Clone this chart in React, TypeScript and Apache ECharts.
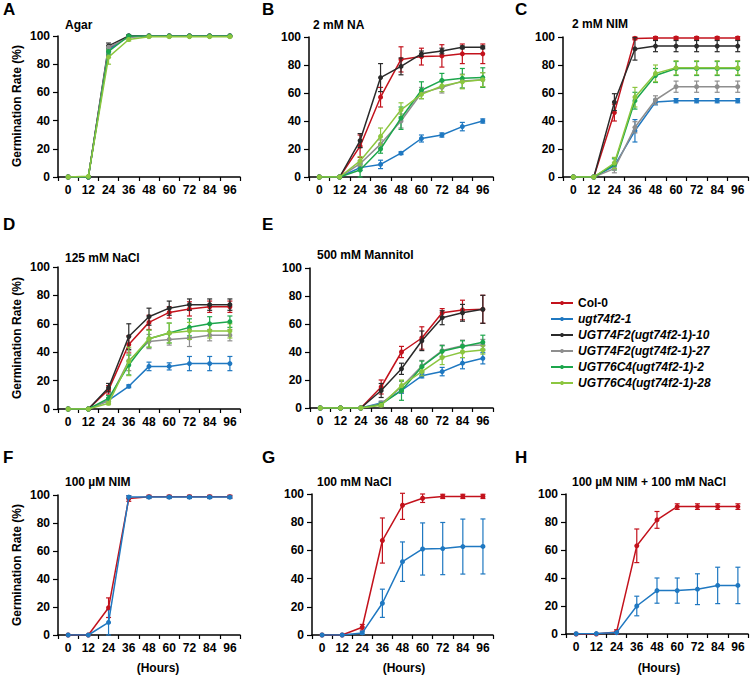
import React, { useEffect, useRef } from "react";
import * as echarts from "echarts";

const hours = ["0", "12", "24", "36", "48", "60", "72", "84", "96"];
const genotypes = [
  "Col-0",
  "ugt74f2-1",
  "UGT74F2(ugt74f2-1)-10",
  "UGT74F2(ugt74f2-1)-27",
  "UGT76C4(ugt74f2-1)-2",
  "UGT76C4(ugt74f2-1)-28",
];
const colors = ["#c3121c", "#1f78c1", "#2a2a2a", "#8e8e8e", "#1ca64c", "#8cc63f"];

// Panel A: Agar
const agarMeans = [
  [0, 0, 91, 100, 100, 100, 100, 100, 100],
  [0, 0, 90, 100, 100, 100, 100, 100, 100],
  [0, 0, 93, 100, 100, 100, 100, 100, 100],
  [0, 0, 92, 99, 100, 100, 100, 100, 100],
  [0, 0, 89, 100, 100, 100, 100, 100, 100],
  [0, 0.5, 85, 97.5, 99.5, 99.5, 99.5, 99.5, 99.5],
];
const agarErrs = [
  [0, 0, 2, 0.5, 0, 0, 0, 0, 0],
  [0, 0, 2, 0.5, 0, 0, 0, 0, 0],
  [0, 0, 2, 0.5, 0, 0, 0, 0, 0],
  [0, 0, 3, 0.5, 0, 0, 0, 0, 0],
  [0, 0, 2, 0.5, 0, 0, 0, 0, 0],
  [0, 0, 5, 1, 0.5, 0.5, 0.5, 0.5, 0.5],
];

// Panel B: 2 mM NA
const naMeans = [
  [0, 0, 22, 57, 84, 86, 86.5, 88, 88],
  [0, 0, 6.7, 9, 17, 27.5, 30, 36, 40],
  [0, 0, 26, 71, 79, 88, 90, 92.6, 92.6],
  [0, 0, 9.5, 23.5, 40, 60, 64, 68.5, 69.5],
  [0, 0, 5, 20, 42, 62, 69, 70.5, 71],
  [0, 0, 11.5, 29, 48, 59, 65, 68, 69.5],
];
const naErrs = [
  [0, 0, 8, 7, 9, 6, 8, 7, 7],
  [0, 0, 2, 3, 1, 2.5, 1.5, 3, 1.5],
  [0, 0, 5, 10, 6, 2, 2, 1, 1],
  [0, 0, 2, 3, 5, 4, 4, 5, 5],
  [0, 0, 5, 3, 8, 6, 5, 7, 7],
  [0, 0, 3, 6, 5, 3, 4, 5, 5],
];

// Panel C: 2 mM NIM
const nimMeans = [
  [0, 0, 46, 99, 99.3, 99.3, 99.3, 99.3, 99.3],
  [0, 0, 8, 33, 53.5, 54.5, 54.5, 54.5, 54.5],
  [0, 0, 53.5, 91.5, 93.5, 93.5, 93.5, 93.5, 93.5],
  [0, 0, 6, 35.5, 55, 64.5, 64.5, 64.5, 64.5],
  [0, 0, 9, 54.5, 72.5, 77.5, 77.5, 77.5, 77.5],
  [0, 0, 10, 57, 74, 78, 78, 78, 78],
];
const nimErrs = [
  [0, 0, 6, 1, 1, 1, 1, 1, 1],
  [0, 0, 2, 8, 2, 1.5, 1.5, 1.5, 1.5],
  [0, 0, 6, 8, 4, 4, 4, 4, 4],
  [0, 0, 3, 4, 3, 4, 4, 4, 4],
  [0, 0, 4, 6, 5, 5, 5, 5, 5],
  [0, 0, 4, 7, 6, 5, 5, 5, 5],
];

// Panel D: 125 mM NaCl
const nacl125Means = [
  [0, 0, 13.5, 45.5, 61, 68, 70.5, 72, 72],
  [0, 0, 6, 16, 30, 30, 32, 32, 32],
  [0, 0, 15, 51, 65, 71, 73.5, 73.5, 73.5],
  [0, 0, 6, 34, 47.5, 49, 50, 52, 52],
  [0, 0, 7.5, 31, 49.5, 53.5, 57.5, 60, 61.5],
  [0, 0, 4, 33.5, 49.5, 53.5, 55, 55, 55],
];
const nacl125Errs = [
  [0, 0, 3, 6, 5, 4, 5, 4, 4],
  [0, 0, 1, 1, 3, 2.5, 5, 5, 5],
  [0, 0, 3, 9, 6, 5, 4, 4, 4],
  [0, 0, 2, 7, 5, 4, 6, 4, 4],
  [0, 0, 2, 7, 6, 7, 6, 5, 4],
  [0, 0, 1, 10, 6, 7, 6, 5, 5],
];

// Panel E: 500 mM Mannitol
const mannitolMeans = [
  [0, 0, 0, 15, 40, 50, 68, 70, 70.5],
  [0, 0, 0, 3.5, 12.5, 23, 26, 32, 35.5],
  [0, 0, 0, 12.5, 28, 48, 64.5, 68, 70.5],
  [0, 0, 0, 3, 15, 30, 41, 44.5, 45],
  [0, 0, 0, 2.5, 12.5, 29.5, 40.5, 44, 47],
  [0, 0, 0, 2, 16, 26, 36, 40, 41.5],
];
const mannitolErrs = [
  [0, 0, 0, 5, 4, 8, 3, 7, 10],
  [0, 0, 0, 1, 2, 1.5, 3, 4, 4],
  [0, 0, 0, 5, 4, 7, 5, 6, 10],
  [0, 0, 0, 2, 4, 4, 4, 4, 4],
  [0, 0, 0, 1, 7, 4, 4, 4, 5],
  [0, 0, 0, 1, 4, 3, 5, 4, 3],
];

// Panel F: 100 µM NIM
const nim100Means = [
  [0, 0, 19.5, 97.5, 98.8, 98.8, 98.8, 98.8, 98.8],
  [0, 0, 9, 98.5, 98.5, 98.5, 98.5, 98.5, 98.5],
];
const nim100Errs = [
  [0, 0, 7, 2, 1, 1, 1, 1, 1],
  [0, 0, 9, 1, 1, 1, 1, 1, 1],
];

// Panel G: 100 mM NaCl
const nacl100Means = [
  [0, 0, 5.5, 67, 92, 97, 98.3, 98.3, 98.3],
  [0, 0, 1.5, 22.5, 52, 61, 61.3, 62.7, 62.8],
];
const nacl100Errs = [
  [0, 0, 2, 16, 10, 3, 1.5, 1.5, 1.5],
  [0, 0, 1, 10, 14, 18.5, 18.5, 19.5, 19.5],
];

// Panel H: 100 µM NIM + 100 mM NaCl
const comboMeans = [
  [0, 0, 1.5, 63, 81.5, 91, 91, 91, 91],
  [0.2, 0.3, 1, 20, 31, 31, 32, 34.7, 34.7],
];
const comboErrs = [
  [0, 0, 1.5, 12, 6, 2, 2, 2, 2],
  [0, 0, 0.5, 7, 9, 9, 11, 13, 13],
];

const panels = [
  { letter: "A", title: "Agar", means: agarMeans, errs: agarErrs },
  { letter: "B", title: "2 mM NA", means: naMeans, errs: naErrs },
  { letter: "C", title: "2 mM NIM", means: nimMeans, errs: nimErrs },
  { letter: "D", title: "125 mM NaCl", means: nacl125Means, errs: nacl125Errs },
  { letter: "E", title: "500 mM Mannitol", means: mannitolMeans, errs: mannitolErrs },
  { letter: "F", title: "100 µM NIM", means: nim100Means, errs: nim100Errs },
  { letter: "G", title: "100 mM NaCl", means: nacl100Means, errs: nacl100Errs },
  { letter: "H", title: "100 µM NIM + 100 mM NaCl", means: comboMeans, errs: comboErrs },
];

// layout (pixels)
const layout = [
  { left: 58, top: 36, width: 182, height: 141, lx: 3, ly: 10, tx: 65, ty: 25 },
  { left: 309, top: 37, width: 184, height: 140, lx: 262, ly: 10, tx: 313, ty: 25 },
  { left: 563, top: 37, width: 185, height: 140, lx: 515, ly: 10, tx: 572, ty: 24 },
  { left: 58, top: 267, width: 182, height: 142, lx: 3, ly: 225, tx: 65, ty: 258 },
  { left: 310, top: 268, width: 183, height: 140, lx: 262, ly: 225, tx: 317, ty: 255 },
  { left: 58, top: 495, width: 182, height: 140, lx: 3, ly: 458, tx: 65, ty: 482 },
  { left: 312, top: 494, width: 181, height: 141, lx: 262, ly: 458, tx: 317, ty: 482 },
  { left: 566, top: 494, width: 182, height: 140, lx: 515, ly: 458, tx: 572, ty: 482 },
];

const FONT = "Liberation Sans, Arial, sans-serif";

function errorRenderer(color: string) {
  return (params: any, api: any) => {
    const x = api.value(0);
    const lo = api.value(1);
    const hi = api.value(2);
    if (hi - lo <= 0) return null;
    const p1 = api.coord([x, lo]);
    const p2 = api.coord([x, hi]);
    const w = 2.5;
    const st = { stroke: color, lineWidth: 1.2 };
    return {
      type: "group",
      children: [
        { type: "line", shape: { x1: p1[0], y1: p1[1], x2: p2[0], y2: p2[1] }, style: st },
        { type: "line", shape: { x1: p1[0] - w, y1: p1[1], x2: p1[0] + w, y2: p1[1] }, style: st },
        { type: "line", shape: { x1: p2[0] - w, y1: p2[1], x2: p2[0] + w, y2: p2[1] }, style: st },
      ],
    };
  };
}

export default function App() {
  const ref = useRef<HTMLDivElement>(null);
  useEffect(() => {
    document.body.style.margin = "0";
    if (!ref.current) return;
    const chart = echarts.init(ref.current, undefined, { renderer: "svg" });

    const grids: any[] = [];
    const xAxes: any[] = [];
    const yAxes: any[] = [];
    const lineSeries: any[] = [];
    const errSeries: any[] = [];
    const graphics: any[] = [];

    panels.forEach((p, i) => {
      const L = layout[i];
      grids.push({ left: L.left, top: L.top, width: L.width, height: L.height, containLabel: false });
      xAxes.push({
        type: "category",
        gridIndex: i,
        data: hours,
        boundaryGap: true,
        axisLine: { lineStyle: { color: "#000", width: 1.5 } },
        axisTick: { show: true, length: 4, alignWithLabel: false, lineStyle: { color: "#000", width: 1.2 } },
        axisLabel: { interval: 0, margin: 7, color: "#000", fontWeight: "bold", fontSize: 12, fontFamily: FONT },
        splitLine: { show: false },
      });
      yAxes.push({
        type: "value",
        gridIndex: i,
        min: 0,
        max: 100,
        interval: 20,
        axisLine: { show: true, lineStyle: { color: "#000", width: 1.5 } },
        axisTick: { show: true, length: 5, lineStyle: { color: "#000", width: 1.2 } },
        axisLabel: { margin: 8, color: "#000", fontWeight: "bold", fontSize: 12, fontFamily: FONT },
        splitLine: { show: false },
      });
      p.means.forEach((m, g) => {
        const color = colors[g];
        lineSeries.push({
          type: "line",
          name: genotypes[g],
          xAxisIndex: i,
          yAxisIndex: i,
          data: m,
          symbol: "circle",
          symbolSize: 5,
          showSymbol: true,
          lineStyle: { color, width: 1.5 },
          itemStyle: { color },
          z: 3 + g,
          emphasis: { disabled: true },
        });
        errSeries.push({
          type: "custom",
          xAxisIndex: i,
          yAxisIndex: i,
          renderItem: errorRenderer(color),
          data: m.map((v, k) => [k, Math.max(0, v - p.errs[g][k]), Math.min(100.5, v + p.errs[g][k])]),
          encode: { x: 0, y: [1, 2] },
          z: 2 + g,
          silent: true,
        });
      });
      graphics.push({
        type: "text",
        left: L.lx,
        top: L.ly - 9,
        style: { text: p.letter, fontSize: 17, fontWeight: "bold", fontFamily: FONT, fill: "#000" },
      });
      graphics.push({
        type: "text",
        x: L.tx,
        y: L.ty,
        style: {
          text: p.title,
          fontSize: 12,
          fontWeight: "bold",
          fontFamily: FONT,
          fill: "#000",
          align: "left",
          verticalAlign: "middle",
        },
      });
    });

    // y-axis names
    [
      { x: 17, y: 106 },
      { x: 17, y: 338 },
      { x: 17, y: 565 },
    ].forEach((pos) => {
      graphics.push({
        type: "text",
        x: pos.x,
        y: pos.y,
        rotation: Math.PI / 2,
        style: {
          text: "Germination Rate (%)",
          fontSize: 12,
          fontWeight: "bold",
          fontFamily: FONT,
          fill: "#000",
          align: "center",
          verticalAlign: "middle",
        },
      });
    });
    // x-axis names
    [158, 404, 659].forEach((x) => {
      graphics.push({
        type: "text",
        x,
        y: 668,
        style: {
          text: "(Hours)",
          fontSize: 12,
          fontWeight: "bold",
          fontFamily: FONT,
          fill: "#000",
          align: "center",
          verticalAlign: "middle",
        },
      });
    });

    chart.setOption({
      animation: false,
      backgroundColor: "#fff",
      grid: grids,
      xAxis: xAxes,
      yAxis: yAxes,
      legend: {
        orient: "vertical",
        left: 545,
        top: 291,
        itemWidth: 22,
        itemHeight: 5,
        itemGap: 2,
        selectedMode: false,
        textStyle: { fontSize: 12, fontWeight: "bold", fontStyle: "italic", fontFamily: FONT, color: "#000", lineHeight: 14 },
        data: genotypes.map((g, k) => ({
          name: g,
          textStyle: k === 0 ? { fontStyle: "normal" } : { fontStyle: "italic" },
        })),
      },
      graphic: graphics,
      series: [...lineSeries, ...errSeries],
    });
    return () => chart.dispose();
  }, []);
  return <div ref={ref} style={{ width: 750, height: 676 }} />;
}
